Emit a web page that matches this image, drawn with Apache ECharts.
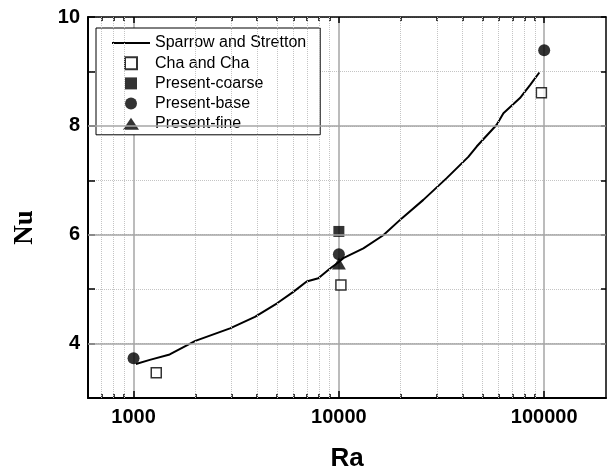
<!DOCTYPE html>
<html><head><meta charset="utf-8">
<script src="https://cdn.jsdelivr.net/npm/echarts@6/dist/echarts.min.js"></script>
<style>html,body{margin:0;padding:0;background:#fff}#c{width:616px;height:472px}</style>
</head><body><div id="c"></div>
<script>
// ---- data ----
const curveRa = [1027, 1200, 1500, 2000, 2950, 3900, 5000, 6000, 6970, 7940, 9060, 10000, 10510, 13160, 16450, 20230, 25780, 33500, 42700, 46900, 58700, 63300, 76200, 85300, 94700];
const curveNu = [3.625, 3.70, 3.80, 4.05, 4.28, 4.49, 4.74, 4.95, 5.14, 5.20, 5.38, 5.50, 5.57, 5.75, 5.99, 6.30, 6.64, 7.04, 7.43, 7.62, 8.02, 8.23, 8.51, 8.75, 8.98];
const chaRa = [1290, 10230, 96900];
const chaNu = [3.465, 5.076, 8.61];
const coarseRa = [10000];
const coarseNu = [6.06];
const baseRa = [1000, 10000, 100000];
const baseNu = [3.73, 5.64, 9.39];
const fineRa = [10000];
const fineNu = [5.47];
const xMajorTicks = [1000, 10000, 100000];
const xMinorTicks = [700, 800, 900, 2000, 3000, 4000, 5000, 6000, 7000, 8000, 9000, 20000, 30000, 40000, 50000, 60000, 70000, 80000, 90000];
const yMajorTicks = [4, 6, 8];
const yLabelTicks = [4, 6, 8, 10];
const legendNames = ['Sparrow and Stretton', 'Cha and Cha', 'Present-coarse', 'Present-base', 'Present-fine'];
const legendIcons = ['path://M0,0H38V2H0Z', 'path://M0,0H10V10H0Z', 'path://M0,0H10V10H0Z', 'circle', 'path://M8,0L16,12H0Z'];

const zip = (a, b) => a.map((v, i) => [v, b[i]]);
const X_MIN = 600, X_MAX = 200000, Y_MIN = 3, Y_MAX = 10;
const labelFont = {fontFamily: 'Liberation Sans', fontWeight: 'bold', fontSize: 20, color: '#000'};

function xAx(extra) {
  return Object.assign({
    type: 'log', logBase: 10, min: X_MIN, max: X_MAX, gridIndex: 0,
    axisLabel: {show: false}, splitLine: {show: false},
    axisLine: {show: false, onZero: false}, axisTick: {show: false}
  }, extra);
}
function yAx(extra) {
  return Object.assign({
    type: 'value', min: Y_MIN, max: Y_MAX, interval: 1, gridIndex: 0,
    axisLabel: {show: false}, splitLine: {show: false},
    axisLine: {show: false, onZero: false}, axisTick: {show: false}
  }, extra);
}

const chart = echarts.init(document.getElementById('c'));
chart.setOption({
  animation: false,
  backgroundColor: '#fff',
  grid: {left: 88, top: 17, right: 10, bottom: 74, containLabel: false, outerBoundsMode: 'none'},
  legend: {
    data: legendNames.map((n, i) => ({name: n, icon: legendIcons[i]})),
    orient: 'vertical', left: 96, top: 28,
    padding: [7, 14, 3, 16], itemGap: 4.2,
    itemWidth: 38, itemHeight: 12, symbolKeepAspect: true,
    backgroundColor: '#fff', borderColor: '#000', borderWidth: 1, borderRadius: 0,
    textStyle: {fontFamily: 'Liberation Sans', fontSize: 16, color: '#000'},
    selectedMode: false
  },
  xAxis: [
    xAx({
      position: 'bottom',
      axisLine: {show: true, onZero: false, lineStyle: {color: '#000', width: 2}},
      axisTick: {show: true, inside: true, length: 7, customValues: xMajorTicks, lineStyle: {color: '#000', width: 1.5}},
      axisLabel: Object.assign({show: true, margin: 9, customValues: xMajorTicks, formatter: v => String(Math.round(v))}, labelFont),
      splitLine: {show: true, lineStyle: {color: '#a6a6a6', width: 1.5, type: 'solid'}},
      name: 'Ra', nameLocation: 'middle', nameGap: 48,
      nameTextStyle: {fontFamily: 'Liberation Sans', fontWeight: 'bold', fontSize: 26, color: '#000'}
    }),
    xAx({position: 'bottom',
      axisTick: {show: true, inside: true, length: 4, customValues: xMinorTicks, lineStyle: {color: '#000', width: 1.5}}}),
    xAx({position: 'top',
      axisLine: {show: true, onZero: false, lineStyle: {color: '#000', width: 1.5}},
      axisTick: {show: true, inside: true, length: 6, customValues: xMajorTicks, lineStyle: {color: '#000', width: 1.5}}}),
    xAx({position: 'top',
      axisTick: {show: true, inside: true, length: 4, customValues: xMinorTicks, lineStyle: {color: '#000', width: 1.5}}})
  ],
  yAxis: [
    yAx({
      position: 'left',
      axisLine: {show: true, onZero: false, lineStyle: {color: '#000', width: 2}},
      axisTick: {show: true, inside: true, length: 7, lineStyle: {color: '#000', width: 1.5}},
      axisLabel: Object.assign({show: true, margin: 8, customValues: yLabelTicks, formatter: v => String(v)}, labelFont),
      splitLine: {show: true, lineStyle: {color: '#c4c4c4', width: 1, type: 'dotted'}},
      name: 'Nu', nameLocation: 'middle', nameRotate: 90, nameGap: 49,
      nameTextStyle: {fontFamily: 'Liberation Serif', fontWeight: 'bold', fontSize: 27, color: '#000', padding: [0, 40, 0, 0]}
    }),
    yAx({
      position: 'right',
      axisLine: {show: true, onZero: false, lineStyle: {color: '#000', width: 1.5}},
      axisTick: {show: true, inside: true, length: 5, lineStyle: {color: '#000', width: 1.5}}
    })
  ],
  series: [
    {
      type: 'line', name: 'gridlines', xAxisIndex: 0, yAxisIndex: 0, data: [], z: 1, silent: true,
      markLine: {
        silent: true, symbol: ['none', 'none'], label: {show: false}, animation: false,
        emphasis: {disabled: true},
        data: [].concat(
          xMinorTicks.map(v => ({xAxis: v, lineStyle: {color: '#c4c4c4', width: 1, type: 'dotted'}})),
          yMajorTicks.map(v => ({yAxis: v, lineStyle: {color: '#a6a6a6', width: 1.5, type: 'solid'}}))
        )
      }
    },
    {
      type: 'line', name: 'Sparrow and Stretton', data: zip(curveRa, curveNu),
      showSymbol: false, symbol: 'none', smooth: false, z: 4,
      lineStyle: {color: '#000', width: 2}, itemStyle: {color: '#000'}
    },
    {
      type: 'scatter', name: 'Cha and Cha', data: zip(chaRa, chaNu), z: 3,
      symbol: 'rect', symbolSize: 10,
      itemStyle: {color: '#fff', borderColor: '#000', borderWidth: 1.5}
    },
    {
      type: 'scatter', name: 'Present-coarse', data: zip(coarseRa, coarseNu), z: 3,
      symbol: 'rect', symbolSize: 11, itemStyle: {color: '#000'}
    },
    {
      type: 'scatter', name: 'Present-fine', data: zip(fineRa, fineNu), z: 3,
      symbol: 'triangle', symbolSize: [14, 12], itemStyle: {color: '#000'}
    },
    {
      type: 'scatter', name: 'Present-base', data: zip(baseRa, baseNu), z: 3,
      symbol: 'circle', symbolSize: 12, itemStyle: {color: '#000'}
    }
  ]
});
</script>
</body></html>
